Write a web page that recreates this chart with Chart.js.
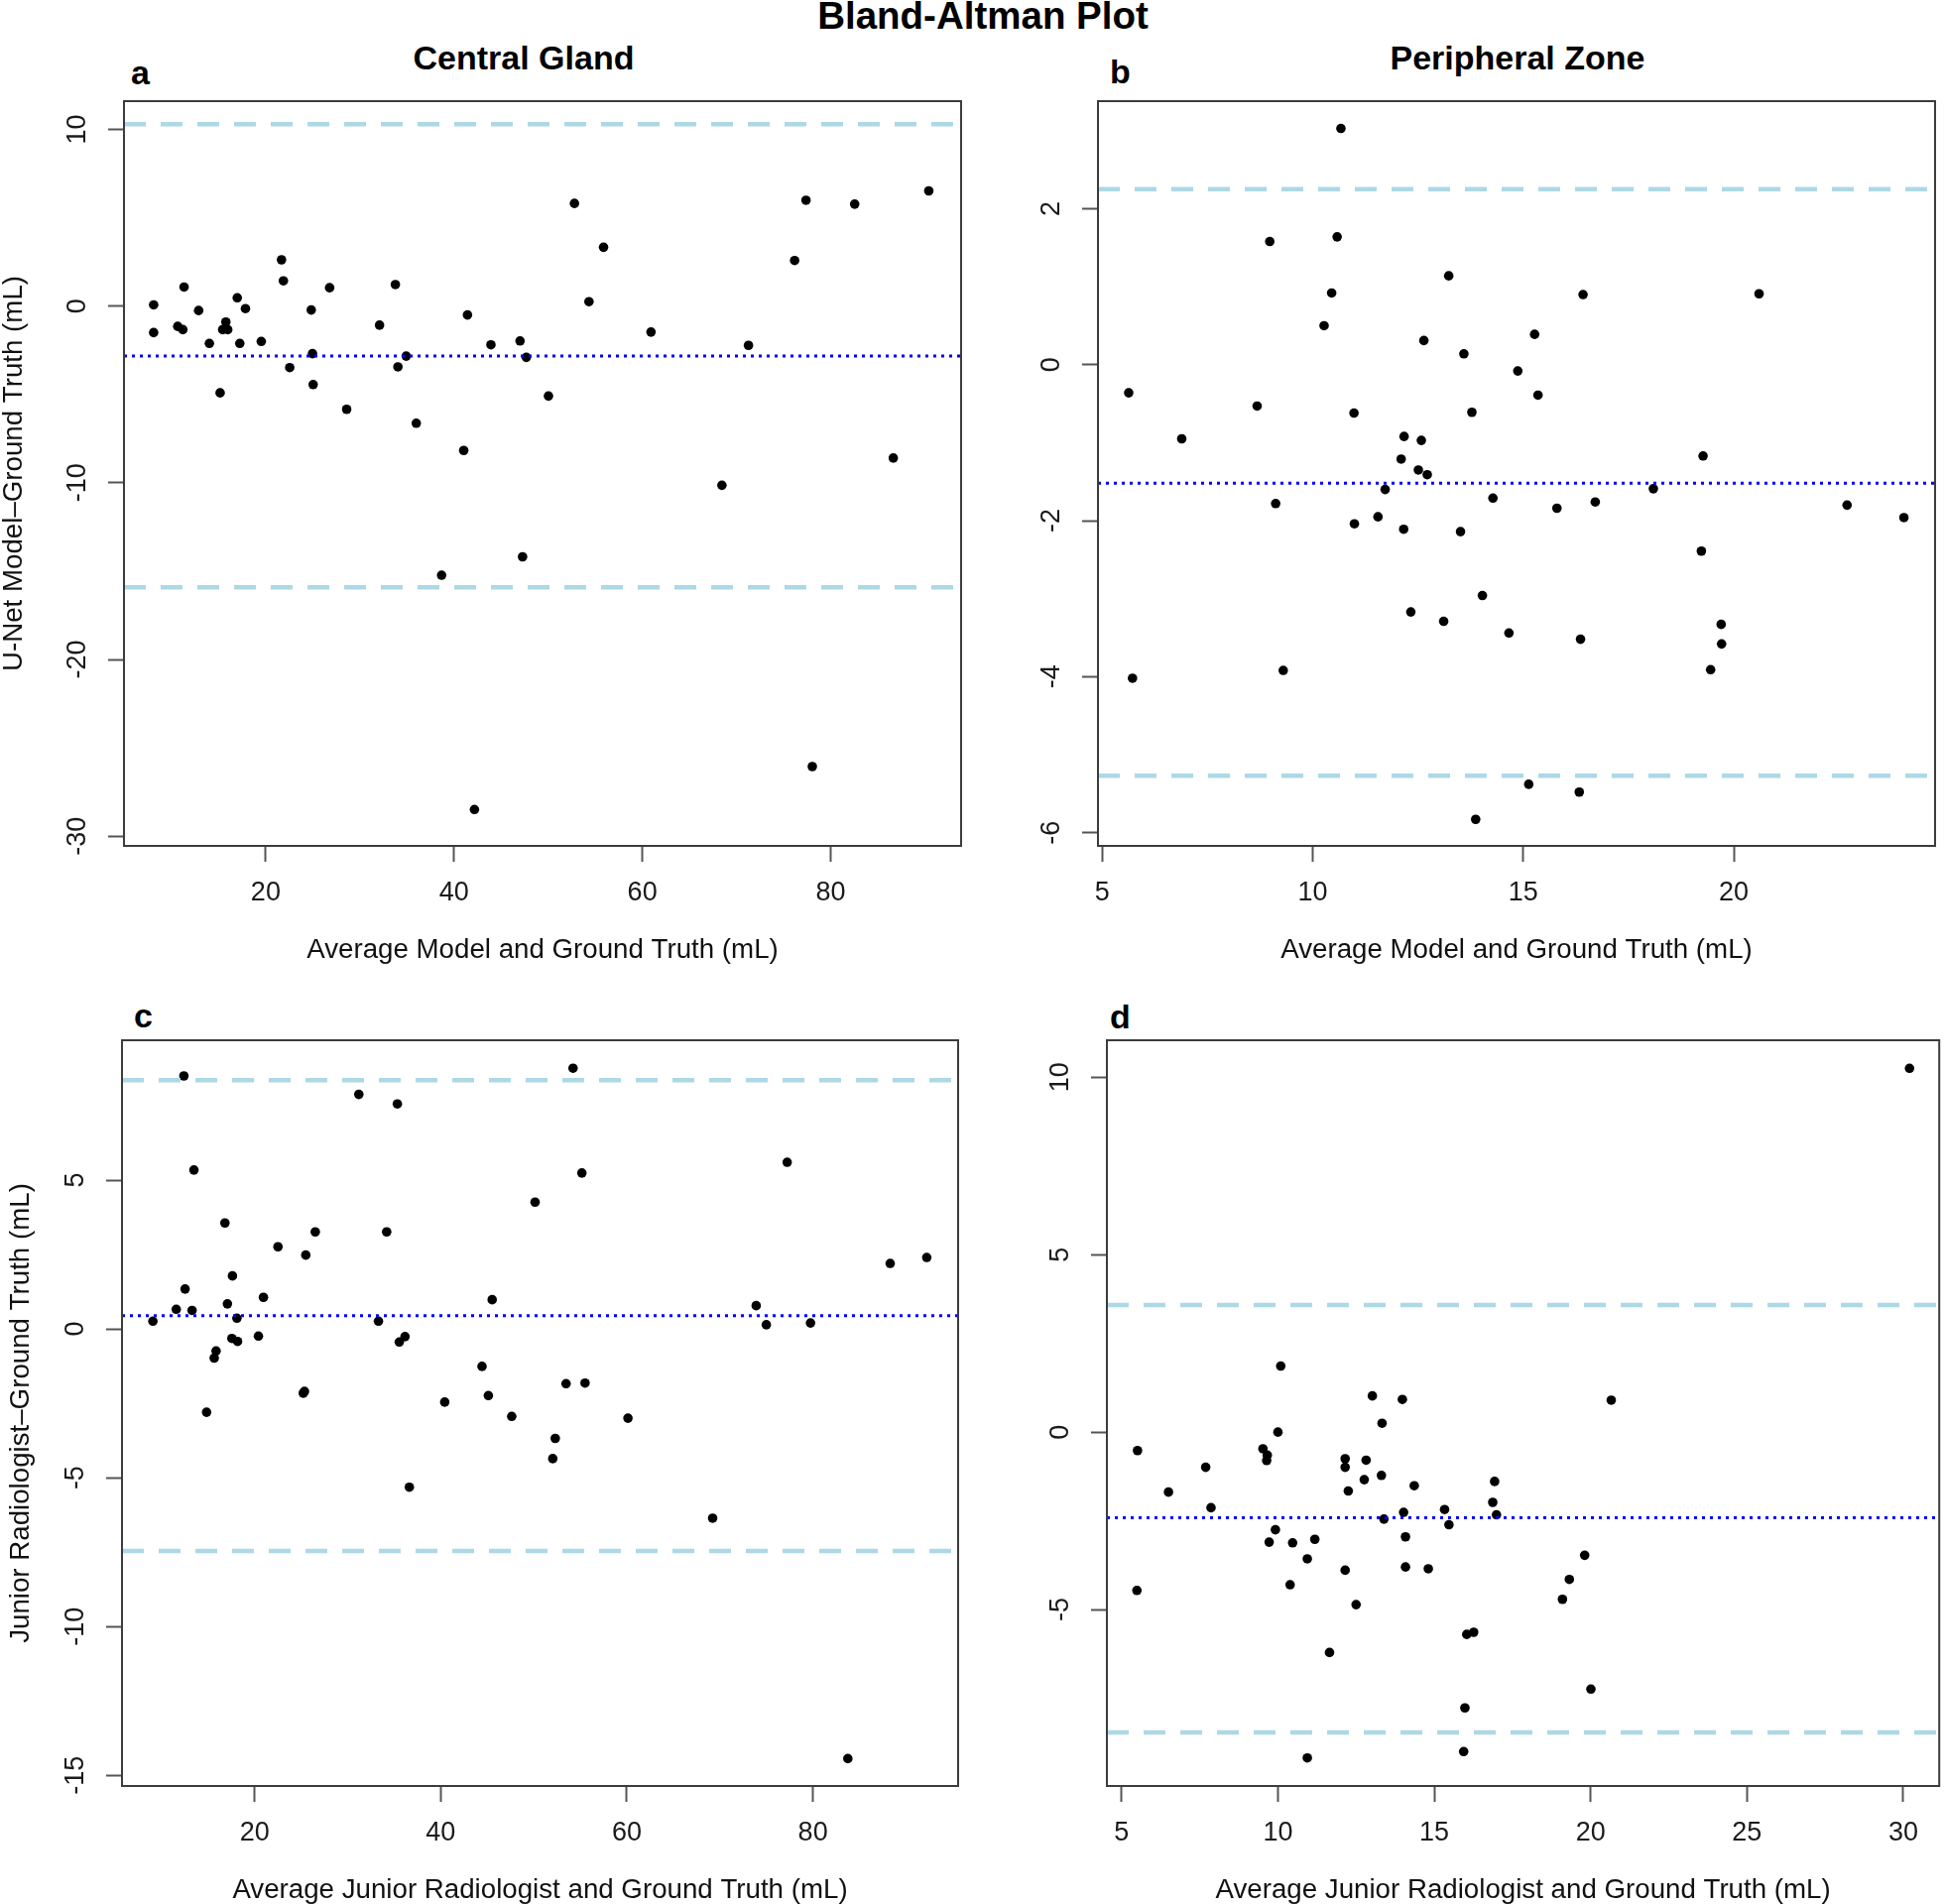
<!DOCTYPE html>
<html>
<head>
<meta charset="utf-8">
<script src="https://cdn.jsdelivr.net/npm/chart.js@4.4.1/dist/chart.umd.min.js"></script>
<style>
  html, body { margin: 0; padding: 0; background: #fff; }
  body { position: relative; width: 1960px; height: 1920px; overflow: hidden; }
  canvas { position: absolute; }
  .txt { position: absolute; font-family: 'Liberation Sans', Arial, Helvetica, sans-serif; font-weight: bold; line-height: 1; white-space: nowrap; color: #000; }
</style>
</head>
<body>
<div class="txt" style="left:991px; top:-3px; font-size:38.5px; transform:translateX(-50%);">Bland-Altman Plot</div>
<div class="txt" style="left:528px; top:41px; font-size:34px; transform:translateX(-50%);">Central Gland</div>
<div class="txt" style="left:1530px; top:41px; font-size:34px; transform:translateX(-50%);">Peripheral Zone</div>
<div class="txt" style="left:132px; top:56px; font-size:34px;">a</div>
<div class="txt" style="left:1119px; top:55px; font-size:34px;">b</div>
<div class="txt" style="left:135px; top:1007px; font-size:34px;">c</div>
<div class="txt" style="left:1119px; top:1008px; font-size:34px;">d</div>
<script>
const FONT = "'Liberation Sans', Arial, Helvetica, sans-serif";

// a: Central Gland, U-Net model vs ground truth
const cgModelAvg = [8.1, 8.1, 10.66, 11.2, 11.33, 12.88, 14.02, 15.16, 15.43, 15.77, 15.97, 16.98, 17.25, 17.85, 19.53,
  21.68, 21.88, 22.55, 24.84, 24.97, 25.04, 26.79, 28.6, 32.09, 33.77, 34.04, 34.92, 35.99, 38.68, 41.03, 41.43, 42.17,
  43.92, 47.01, 47.28, 47.68, 50.03, 52.79, 54.33, 55.88, 60.92, 68.45, 71.27, 76.17, 77.38, 78.05, 82.55, 86.65, 90.42];
const cgModelDiff = [0.07, -1.5, -1.15, -1.33, 1.08, -0.25, -2.11, -4.91, -1.33, -0.9, -1.33, 0.47, -2.11, -0.14, -2.0,
  2.62, 1.43, -3.48, -0.22, -2.69, -4.44, 1.04, -5.84, -1.08, 1.22, -3.44, -2.83, -6.63, -15.23, -8.17, -0.5, -28.49,
  -2.19, -1.97, -14.19, -2.9, -5.09, 5.81, 0.25, 3.33, -1.47, -10.14, -2.22, 2.58, 5.99, -26.06, 5.77, -8.6, 6.52];
const cgModelLoA = [10.29, -2.83, -15.91]; // upper, mean, lower

// b: Peripheral Zone, U-Net model vs ground truth
const pzModelAvg = [5.63, 5.72, 6.89, 8.68, 8.98, 9.12, 9.3, 10.27, 10.45, 10.58, 10.67, 10.98, 10.99, 11.55, 11.72,
  12.1, 12.17, 12.16, 12.33, 12.51, 12.58, 12.64, 12.72, 13.11, 13.23, 13.51, 13.59, 13.78, 13.87, 14.03, 14.28, 14.66,
  14.87, 15.13, 15.27, 15.35, 15.8, 16.33, 16.36, 16.42, 16.71, 18.09, 19.23, 19.27, 19.45, 19.7, 19.71, 20.6, 22.69, 24.04];
const pzModelDiff = [-0.36, -4.02, -0.95, -0.53, 1.58, -1.78, -3.92, 0.5, 0.92, 1.64, 3.03, -0.62, -2.04, -1.95, -1.6,
  -1.21, -0.92, -2.11, -3.17, -1.35, -0.97, 0.31, -1.41, -3.29, 1.14, -2.14, 0.14, -0.61, -5.83, -2.96, -1.71, -3.44,
  -0.08, -5.38, 0.39, -0.39, -1.84, -5.48, -3.52, 0.9, -1.76, -1.59, -2.39, -1.17, -3.91, -3.33, -3.58, 0.91, -1.8, -1.96];
const pzModelLoA = [2.25, -1.52, -5.27];

// c: Central Gland, junior radiologist vs ground truth
const cgJuniorAvg = [9.07, 11.58, 12.4, 12.53, 13.28, 13.48, 14.84, 15.66, 15.86, 16.81, 17.08, 17.56, 17.62, 18.1, 18.17,
  20.41, 20.95, 22.51, 25.23, 25.36, 25.5, 26.52, 31.2, 33.31, 34.19, 35.34, 35.55, 36.16, 36.63, 40.43, 44.44, 45.12,
  45.53, 47.63, 50.14, 52.04, 52.31, 53.47, 54.22, 55.17, 55.51, 60.12, 69.22, 73.9, 74.99, 77.23, 79.74, 83.75, 88.3, 92.23];
const cgJuniorDiff = [0.26, 0.66, 8.5, 1.34, 0.62, 5.34, -2.8, -0.98, -0.74, 3.56, 0.84, -0.32, 1.78, 0.36, -0.42,
  -0.24, 1.06, 2.76, -2.16, -2.1, 2.48, 3.26, 7.88, 0.26, 3.26, 7.56, -0.44, -0.26, -5.32, -2.46, -1.26, -2.24,
  0.98, -2.94, 4.26, -4.36, -3.68, -1.84, 8.76, 5.24, -1.82, -3.0, -6.36, 0.78, 0.14, 5.6, 0.2, -14.44, 2.2, 2.4];
const cgJuniorLoA = [8.36, 0.44, -7.46];

// d: Peripheral Zone, junior radiologist vs ground truth
const pzJuniorAvg = [5.51, 5.49, 6.5, 7.69, 7.86, 9.52, 9.66, 9.64, 9.72, 9.92, 10.0, 10.09, 10.39, 10.47, 10.94,
  10.94, 11.18, 11.65, 12.15, 12.15, 12.15, 12.25, 12.5, 12.76, 12.82, 13.02, 13.31, 13.33, 13.39, 13.98, 14.02, 14.08,
  14.08, 14.36, 14.81, 15.33, 15.47, 15.94, 15.98, 16.04, 16.26, 16.87, 16.93, 16.99, 19.1, 19.32, 19.81, 20.01, 20.66, 30.2];
const pzJuniorDiff = [-0.52, -4.46, -1.69, -0.99, -2.13, -0.47, -0.65, -0.8, -3.1, -2.75, 0.0, 1.86, -4.3, -3.12, -3.57,
  -9.18, -3.02, -6.21, -0.75, -0.99, -3.89, -1.66, -4.86, -1.34, -0.79, 1.02, -1.22, 0.25, -2.45, 0.92, -2.26, -2.95,
  -3.8, -1.51, -3.85, -2.18, -2.61, -9.0, -7.77, -5.7, -5.64, -1.98, -1.39, -2.33, -4.71, -4.15, -3.47, -7.24, 0.9, 10.25];
const pzJuniorLoA = [3.58, -2.41, -8.46];

// axis ranges and tick labels
const cgModelXRange = [4.95, 93.85], cgModelYRange = [-30.55, 11.6];
const pzModelXRange = [4.9, 24.78], pzModelYRange = [-6.17, 3.38];
const cgJuniorXRange = [5.75, 95.6], cgJuniorYRange = [-15.36, 9.7];
const pzJuniorXRange = [4.53, 31.15], pzJuniorYRange = [-9.97, 11.04];
const cgXTicks = [20, 40, 60, 80];
const pzModelXTicks = [5, 10, 15, 20];
const pzJuniorXTicks = [5, 10, 15, 20, 25, 30];
const cgModelYTicks = [10, 0, -10, -20, -30];
const pzModelYTicks = [2, 0, -2, -4, -6];
const cgJuniorYTicks = [5, 0, -5, -10, -15];
const pzJuniorYTicks = [10, 5, 0, -5];

// draws the closed box round the plot region, like R's box()
const framePlugin = {
  id: 'frame',
  afterDraw(chart) {
    const {ctx, chartArea} = chart;
    ctx.save();
    ctx.strokeStyle = '#3c3c3c';
    ctx.lineWidth = 2;
    ctx.strokeRect(chartArea.left, chartArea.top, chartArea.right - chartArea.left, chartArea.bottom - chartArea.top);
    ctx.restore();
  }
};

function hLine(value, xRange) {
  return [{x: xRange[0], y: value}, {x: xRange[1], y: value}];
}

function createPanel(p) {
  const canvas = document.createElement('canvas');
  canvas.width = p.width;
  canvas.height = p.height;
  canvas.style.left = p.left + 'px';
  canvas.style.top = p.top + 'px';
  document.body.appendChild(canvas);

  const loaStyle = {type: 'line', borderColor: '#add8e6', borderWidth: 4.5, borderDash: [22, 15], pointRadius: 0, fill: false};

  new Chart(canvas, {
    type: 'scatter',
    data: {
      datasets: [
        Object.assign({data: hLine(p.loa[0], p.xRange)}, loaStyle),
        Object.assign({data: hLine(p.loa[2], p.xRange)}, loaStyle),
        {type: 'line', data: hLine(p.loa[1], p.xRange), borderColor: '#0000ff', borderWidth: 3, borderDash: [3, 5], pointRadius: 0, fill: false},
        {data: p.xs.map((x, i) => ({x: x, y: p.ys[i]})), backgroundColor: '#000', borderWidth: 0, pointRadius: 4.8, pointHoverRadius: 4.8}
      ]
    },
    options: {
      responsive: false,
      animation: false,
      events: [],
      layout: {padding: {top: 40, right: p.padRight, bottom: 0, left: 0}},
      plugins: {legend: {display: false}, tooltip: {enabled: false}},
      scales: {
        x: {
          type: 'linear',
          position: 'bottom',
          min: p.xRange[0],
          max: p.xRange[1],
          afterBuildTicks: (scale) => { scale.ticks = p.xTicks.map(v => ({value: v})); },
          afterFit: (scale) => { scale.height = 124; },
          border: {display: false},
          grid: {drawOnChartArea: false, drawTicks: true, tickLength: 16, tickWidth: 2, tickColor: '#555'},
          ticks: {autoSkip: false, maxRotation: 0, padding: 15, color: '#1a1a1a', font: {family: FONT, size: 27}},
          title: {display: true, text: p.xTitle, color: '#111', font: {family: FONT, size: 27.7}, padding: {top: 0, bottom: p.xTitlePad}}
        },
        y: {
          type: 'linear',
          position: 'left',
          min: p.yRange[0],
          max: p.yRange[1],
          afterBuildTicks: (scale) => { scale.ticks = p.yTicks.map(v => ({value: v})); },
          afterFit: (scale) => { scale.width = 145; },
          border: {display: false},
          grid: {drawOnChartArea: false, drawTicks: true, tickLength: 16, tickWidth: 2, tickColor: '#555'},
          // R draws y labels parallel to the axis, reading bottom to top
          ticks: {autoSkip: false, minRotation: 90, maxRotation: 90, crossAlign: 'center', padding: p.yTickPad,
                  color: '#1a1a1a', font: {family: FONT, size: 27}},
          title: {display: !!p.yTitle, text: p.yTitle || '', color: '#111', font: {family: FONT, size: 27.7},
                  padding: {top: p.yTitlePad || 0, bottom: 0}}
        }
      }
    },
    plugins: [framePlugin]
  });
}

createPanel({
  left: -20, top: 62, width: 999, height: 915, padRight: 10,
  xs: cgModelAvg, ys: cgModelDiff, loa: cgModelLoA,
  xRange: cgModelXRange, yRange: cgModelYRange, xTicks: cgXTicks, yTicks: cgModelYTicks,
  xTitle: 'Average Model and Ground Truth (mL)', xTitlePad: 2.5,
  yTitle: 'U-Net Model\u2013Ground Truth (mL)', yTitlePad: 17.5, yTickPad: 10.5
});

createPanel({
  left: 962, top: 62, width: 998, height: 915, padRight: 9,
  xs: pzModelAvg, ys: pzModelDiff, loa: pzModelLoA,
  xRange: pzModelXRange, yRange: pzModelYRange, xTicks: pzModelXTicks, yTicks: pzModelYTicks,
  xTitle: 'Average Model and Ground Truth (mL)', xTitlePad: 2.5,
  yTickPad: 18
});

createPanel({
  left: -22, top: 1009, width: 998, height: 916, padRight: 10,
  xs: cgJuniorAvg, ys: cgJuniorDiff, loa: cgJuniorLoA,
  xRange: cgJuniorXRange, yRange: cgJuniorYRange, xTicks: cgXTicks, yTicks: cgJuniorYTicks,
  xTitle: 'Average Junior Radiologist and Ground Truth (mL)', xTitlePad: 1.8,
  yTitle: 'Junior Radiologist\u2013Ground Truth (mL)', yTitlePad: 26.5, yTickPad: 10.5
});

createPanel({
  left: 971, top: 1009, width: 989, height: 916, padRight: 3,
  xs: pzJuniorAvg, ys: pzJuniorDiff, loa: pzJuniorLoA,
  xRange: pzJuniorXRange, yRange: pzJuniorYRange, xTicks: pzJuniorXTicks, yTicks: pzJuniorYTicks,
  xTitle: 'Average Junior Radiologist and Ground Truth (mL)', xTitlePad: 1.8,
  yTickPad: 15
});
</script>
</body>
</html>
